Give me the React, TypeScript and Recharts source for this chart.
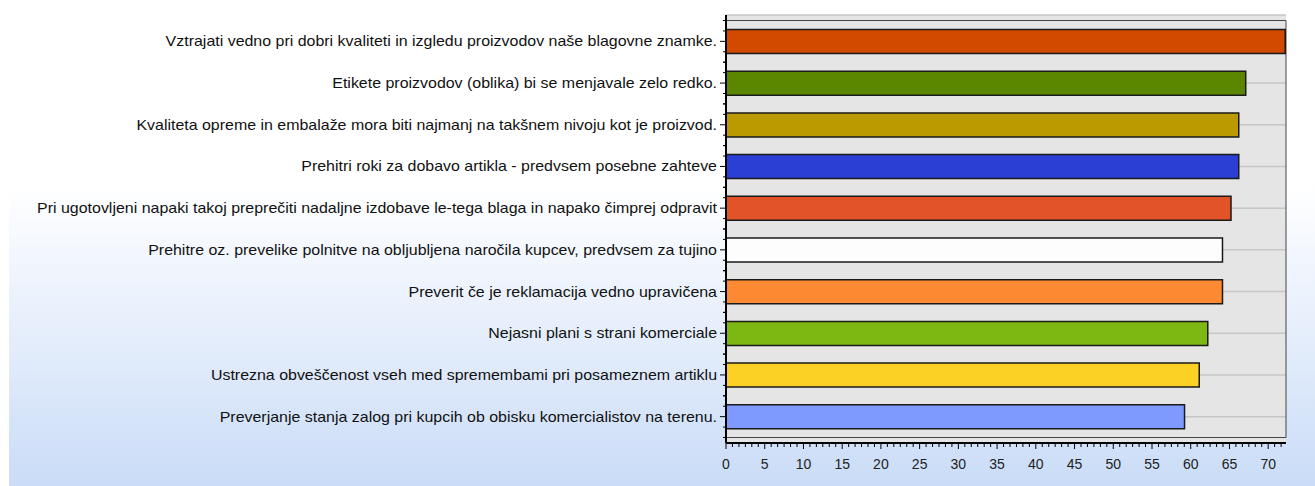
import React from "react";
import {
  Bar,
  BarChart,
  CartesianGrid,
  Cell,
  ReferenceArea,
  XAxis,
  YAxis,
} from "recharts";

const categories = [
  "Vztrajati vedno pri dobri kvaliteti in izgledu proizvodov naše blagovne znamke.",
  "Etikete proizvodov (oblika) bi se menjavale zelo redko.",
  "Kvaliteta opreme in embalaže mora biti najmanj na takšnem nivoju kot je proizvod.",
  "Prehitri roki za dobavo artikla - predvsem posebne zahteve",
  "Pri ugotovljeni napaki takoj preprečiti nadaljne izdobave le-tega blaga in napako čimprej odpravit",
  "Prehitre oz. prevelike polnitve na obljubljena naročila kupcev, predvsem za tujino",
  "Preverit če je reklamacija vedno upravičena",
  "Nejasni plani s strani komerciale",
  "Ustrezna obveščenost vseh med spremembami pri posameznem artiklu",
  "Preverjanje stanja zalog pri kupcih ob obisku komercialistov na terenu.",
];

const values = [72.2, 67.1, 66.2, 66.2, 65.2, 64.1, 64.1, 62.2, 61.1, 59.2];

const barColors = [
  "#d24a00",
  "#5b8700",
  "#bb9a00",
  "#2b3fd5",
  "#e2532a",
  "#fdfdfd",
  "#fd8a32",
  "#7cb811",
  "#fcd125",
  "#7f9aff",
];

const xMajorTicks = [0, 5, 10, 15, 20, 25, 30, 35, 40, 45, 50, 55, 60, 65, 70];
const X_MAX = 72.3;

// minor ticks: 6 per major step
const xTicks: number[] = [];
for (let i = 0; i * (5 / 6) <= X_MAX; i++) xTicks.push(+(i * (5 / 6)).toFixed(4));

const rows = categories.map((name, i) => ({ name, value: values[i] }));

const ROW = 41.7;
const FONT = "'Liberation Sans', Arial, sans-serif";

function YTick(props: any) {
  const { x, y, payload } = props;
  const q = ROW / 4;
  return (
    <g>
      {[-2, -1, 1, 2].map((k) => (
        <line key={k} x1={x - 3} x2={x} y1={y + k * q} y2={y + k * q} stroke="#000" strokeWidth={1} />
      ))}
      <line x1={x - 6} x2={x} y1={y} y2={y} stroke="#000" strokeWidth={1} />
      <g transform={`translate(${x - 9},${y}) scale(1.14,1)`}>
        <text x={0} y={0} dy={5} textAnchor="end" fontSize={14} fill="#111" fontFamily={FONT}>
          {payload.value}
        </text>
      </g>
    </g>
  );
}

function XTick(props: any) {
  const { x, y, payload } = props;
  const v = payload.value as number;
  const major = xMajorTicks.some((m) => Math.abs(m - v) < 1e-3);
  return (
    <g>
      <line x1={x} x2={x} y1={y} y2={y + (major ? 6 : 4)} stroke="#000" strokeWidth={1} />
      {major && (
        <text x={x} y={y + 26} textAnchor="middle" fontSize={14} fill="#222" fontFamily={FONT}>
          {Math.round(v)}
        </text>
      )}
    </g>
  );
}

export default function App() {
  return (
    <div style={{ position: "absolute", left: 0, top: 0, width: 1315, height: 486, background: "#fff" }}>
      <div
        style={{
          position: "absolute",
          left: 9,
          top: 0,
          width: 1306,
          height: 486,
          background: "linear-gradient(to bottom, #ffffff 0%, #ffffff 38%, #cadcf7 100%)",
        }}
      />
      <div style={{ position: "absolute", left: 0, top: 0 }}>
        <BarChart
          width={1315}
          height={486}
          data={rows}
          layout="vertical"
          margin={{ top: 15, right: 29, bottom: 0, left: 0 }}
          barSize={24}
        >
          <CartesianGrid
            horizontal
            vertical={false}
            fill="#e5e5e5"
            fillOpacity={1}
            stroke="#c6c6c6"
            strokeWidth={1.5}
          />
          <XAxis
            type="number"
            domain={[0, X_MAX]}
            ticks={xTicks}
            interval={0}
            height={43}
            tickSize={0}
            tickMargin={0}
            tickLine={false}
            tick={<XTick />}
            axisLine={{ stroke: "#000", strokeWidth: 2 }}
            allowDataOverflow
          />
          <YAxis
            type="category"
            dataKey="name"
            width={726}
            interval={0}
            tickSize={0}
            tickMargin={0}
            tickLine={false}
            tick={<YTick />}
            padding={{ top: 5.5, bottom: 5.5 }}
            axisLine={{ stroke: "#000", strokeWidth: 2 }}
          />
          <Bar dataKey="value" stroke="#1a1a1a" strokeWidth={1.5} isAnimationActive={false}>
            {rows.map((r, i) => (
              <Cell key={i} fill={barColors[i]} />
            ))}
          </Bar>
          <ReferenceArea x1={0} x2={X_MAX} fill="none" stroke="#444" strokeWidth={1} ifOverflow="visible" />
        </BarChart>
      </div>
    </div>
  );
}
